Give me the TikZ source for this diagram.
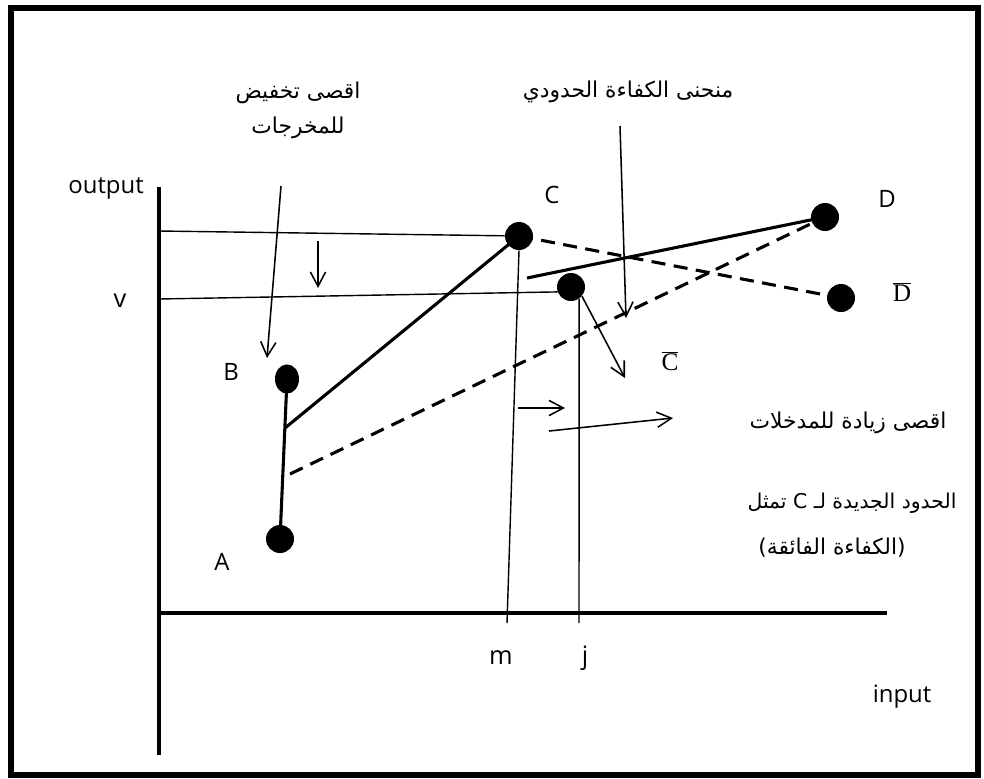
\documentclass[tikz,border=0pt]{standalone}
\usepackage{fontspec}
\setmainfont{Open Sans}
\newfontfamily\arabicfont[Script=Arabic]{DejaVu Sans}
\newfontfamily\latinfont{DejaVu Sans}
\newfontfamily\barfont{Liberation Serif}
\TeXXeTstate=1
\usetikzlibrary{arrows.meta,shapes.geometric}
\tikzset{
  dot/.style={circle, fill=black, minimum size=7mm, inner sep=0pt},
  axisline/.style={line width=2.8pt},
  guide/.style={line width=1pt},
  frontier/.style={line width=2.2pt},
  frontierdash/.style={frontier, dash pattern=on 10pt off 6pt},
  pointer/.style={line width=1.1pt, -{Straight Barb[length=3.6mm, width=3.8mm]}},
  lbl/.style={font=\fontsize{17}{20}\selectfont, inner sep=0pt},
  axlbl/.style={font=\fontsize{18}{21}\selectfont, inner sep=0pt},
  barlbl/.style={font=\barfont\fontsize{18}{21}\selectfont, inner sep=1pt},
  artext/.style={font=\arabicfont\fontsize{15.5}{25}\selectfont, align=center, inner sep=0pt},
}

\begin{document}
\begin{tikzpicture}[x=0.025cm, y=-0.025cm]
  \useasboundingbox (0,0) rectangle (984,778);
  \draw[line width=4.3pt] (11,8) rectangle (978,775);

  % ---- axes ----------------------------------------------------------------
  \coordinate (yaxtop) at (159,187);
  \coordinate (origin) at (159,613);
  \coordinate (yaxbot) at (159,755);
  \coordinate (xaxend) at (887,613);
  \draw[axisline] (yaxtop) -- (yaxbot);
  \draw[axisline] (origin) -- (xaxend);
  \node[lbl, anchor=base east] (outlbl) at (144,193) {output};
  \node[lbl, anchor=base] (inlbl) at (902,702) {input};
  \node[axlbl, anchor=base] (vlbl) at (120,307) {v};
  \node[axlbl, anchor=base] (mlbl) at (501,664) {m};
  \node[axlbl, anchor=base] (jlbl) at (585,664) {j};

  % ---- the units -----------------------------------------------------------
  \node[dot] (ptA) at (280,539) {};
  \node[dot, ellipse, minimum width=6mm, minimum height=7.3mm] (ptB) at (287,379) {};
  \node[dot] (ptC) at (519,236) {};
  \node[dot] (ptCj) at (571,287) {};
  \node[dot] (ptD) at (825,217) {};
  \node[dot] (ptDb) at (841,298) {};
  \node[lbl, anchor=base] (Albl) at (222,570) {A};
  \node[lbl, anchor=base] (Blbl) at (231,380) {B};
  \node[lbl, anchor=base] (Clbl) at (552,203) {C};
  \node[lbl, anchor=base] (Dlbl) at (887,207) {D};
  \node[barlbl] (Cblbl) at (670,361) {$\overline{\hbox{\barfont C}}$};
  \node[barlbl] (Dblbl) at (902,292) {$\overline{\hbox{\barfont D}}$};

  % ---- guide lines to the axes ---------------------------------------------
  \coordinate (yC) at (159,231);
  \coordinate (yv) at (159,299);
  \coordinate (mtick) at (507,623);
  \coordinate (jtick) at (579,623);
  \draw[guide] (yC) -- (ptC);
  \draw[guide] (yv) -- (ptCj.200);
  \draw[guide] (ptC.south) -- (mtick);
  \draw[guide] (ptCj.-55) -- (jtick);

  % ---- frontiers -----------------------------------------------------------
  \coordinate (abSolid) at (285,428);
  \coordinate (abDash) at (290,474);
  \coordinate (fStart) at (527,278);
  \draw[frontier] (ptA.center) -- (ptB.center);
  \draw[frontier] (abSolid) -- (ptC.center);
  \draw[frontier] (fStart) -- (ptD.center);
  \draw[frontierdash] (abDash) -- (ptD.center);
  \draw[frontierdash] (ptC.center) -- (ptDb.center);

  % ---- pointers ------------------------------------------------------------
  \coordinate (cutTop) at (281,186);
  \coordinate (cutTip) at (267,358);
  \coordinate (dnTop) at (318,241);
  \coordinate (dnTip) at (318,288);
  \coordinate (frTop) at (620,126);
  \coordinate (frTip) at (626,318);
  \coordinate (cbTip) at (625,378);
  \coordinate (in1s) at (518,408);
  \coordinate (in1e) at (565,408);
  \coordinate (in2s) at (549,431);
  \coordinate (in2e) at (673,418);
  \draw[pointer] (cutTop) -- (cutTip);
  \draw[pointer] (dnTop) -- (dnTip);
  \draw[pointer] (frTop) -- (frTip);
  \draw[pointer] (ptCj.-40) -- (cbTip);
  \draw[pointer] (in1s) -- (in1e);
  \draw[pointer] (in2s) -- (in2e);

  % ---- arabic notes --------------------------------------------------------
  \node[artext] (cutnote) at (298,110)
    {\beginR اقصى تخفيض\endR\\\beginR للمخرجات\endR};
  \node[artext] (frnote) at (628,92) {\beginR منحنى الكفاءة الحدودي\endR};
  \node[artext] (innote) at (848,423) {\beginR اقصى زيادة للمدخلات\endR};
  \node[artext, font=\arabicfont\fontsize{14.5}{25}\selectfont] (newb1) at (852,503)
    {\beginR الحدود الجديدة لـ C تمثل\endR};
  \node[artext] (newb2) at (832,548)
    {{\latinfont(}\beginR الكفاءة الفائقة\endR{\latinfont)}};
\end{tikzpicture}
\end{document}
